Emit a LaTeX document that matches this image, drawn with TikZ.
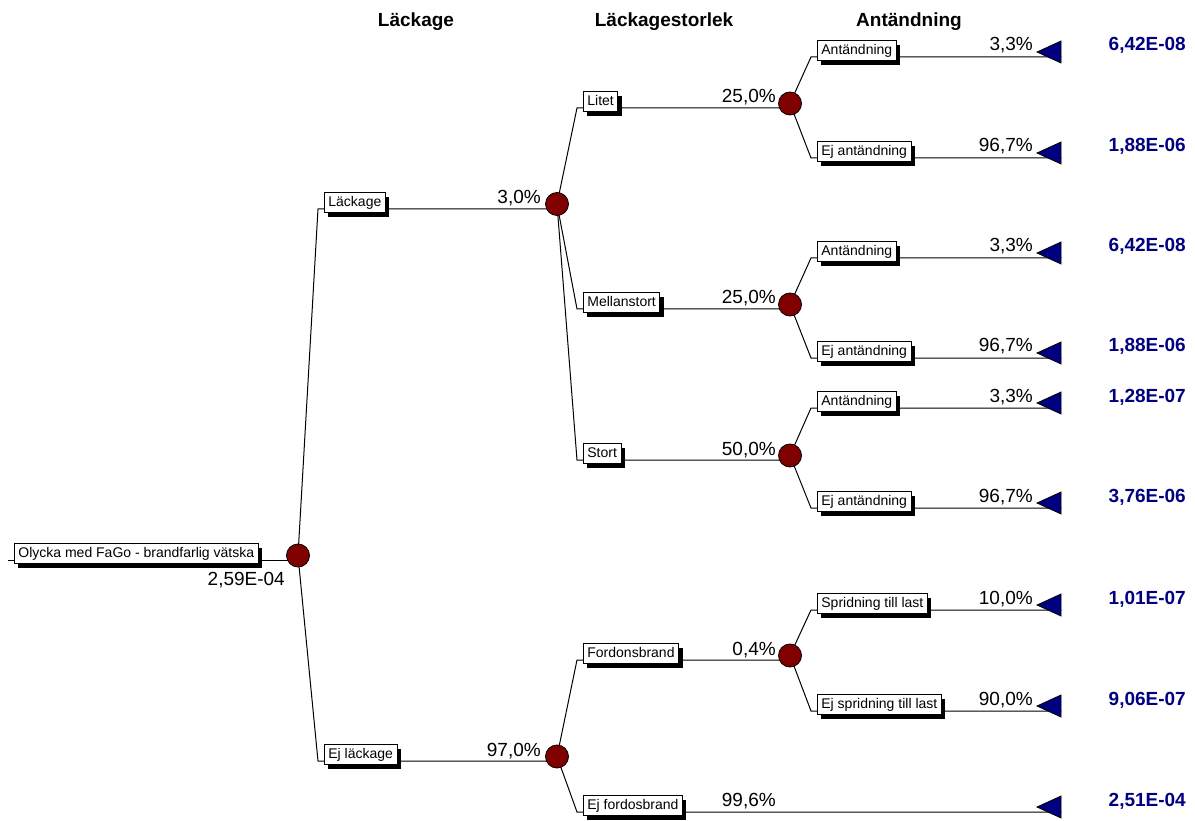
\documentclass[tikz,border=0pt]{standalone}
\usepackage{fontspec}
\setmainfont{Liberation Sans}
\usetikzlibrary{positioning,shapes.geometric,shadows}
\definecolor{nodered}{RGB}{128,0,0}
\definecolor{termblue}{RGB}{0,0,128}
\pgfdeclarelayer{bg}
\pgfsetlayers{bg,main}
\tikzset{
  chance/.style={circle, draw, line width=0.8pt, fill=nodered, minimum size=23pt, inner sep=0pt},
  term/.style={isosceles triangle, isosceles triangle stretches, shape border rotate=180,
    draw, line width=0.8pt, fill=termblue, minimum width=22pt, minimum height=24pt, inner sep=0pt},
  lbl/.style={draw, line width=0.8pt, fill=white, font=\fontsize{14}{16}\selectfont,
    inner xsep=4pt, inner ysep=0pt, text height=10.5pt, text depth=3.5pt, minimum height=20pt,
    drop shadow={shadow xshift=4pt, shadow yshift=-4pt, fill=black, opacity=1}},
  prob/.style={font=\fontsize{19}{21}\selectfont, anchor=base east, inner sep=0pt},
  val/.style={font=\fontsize{19}{21}\selectfont\bfseries, text=termblue, anchor=base east, inner sep=0pt},
  head/.style={font=\fontsize{19}{21}\selectfont\bfseries, anchor=base, inner sep=0pt},
  branch/.style={line width=1pt}
}
\begin{document}
\begin{tikzpicture}[x=1pt, y=-1pt]
  \useasboundingbox (0,0) rectangle (1195,821);
  % column titles
  \node[head] at (416,27) {Läckage};
  \node[head] at (664,27) {Läckagestorlek};
  \node[head] at (909,27) {Antändning};
  % root
  \coordinate (s0) at (8,560);
  \node[chance] (c0) at (298,555.5) {};
  \node[lbl, above right=-4pt and 6pt of s0] {Olycka med FaGo - brandfarlig vätska};
  \node[prob] at (285,585) {2,59E-04};
  % leakage
  \coordinate (k1) at (318,209);
  \node[chance] (c1) at (557,204) {};
  \node[lbl, above right=-4pt and 6pt of k1] {Läckage};
  \node[prob] at (541,204) {3,0\%};
  \coordinate (k2) at (318,761);
  \node[chance] (c2) at (557,756.5) {};
  \node[lbl, above right=-4pt and 6pt of k2] {Ej läckage};
  \node[prob] at (541,756) {97,0\%};
  % size of leak / vehicle fire
  \foreach \k/\L/\src/\txt/\pr in {3/108/c1/Litet/{25,0\%}, 4/309/c1/Mellanstort/{25,0\%},
      5/460/c1/Stort/{50,0\%}, 6/660/c2/Fordonsbrand/{0,4\%}}{
    \coordinate (k\k) at (577,\L);
    \node[chance] (c\k) at (790,\L-4.5) {};
    \node[lbl, above right=-4pt and 6pt of k\k] {\txt};
    \node[prob] at (776,\L-5) {\pr};
  }
  \coordinate (kE) at (577,812);
  \node[term, anchor=apex] (tE) at (1036,807) {};
  \node[lbl, above right=-4pt and 6pt of kE] {Ej fordosbrand};
  \node[prob] at (776,806) {99,6\%};
  \node[val] at (1186,806) {2,51E-04};
  % ignition
  \foreach \k/\L/\src/\txt/\pr/\v in {a/57/c3/Antändning/{3,3\%}/{6,42E-08},
      b/158/c3/Ej antändning/{96,7\%}/{1,88E-06},
      c/258/c4/Antändning/{3,3\%}/{6,42E-08},
      d/358/c4/Ej antändning/{96,7\%}/{1,88E-06},
      e/408/c5/Antändning/{3,3\%}/{1,28E-07},
      f/508/c5/Ej antändning/{96,7\%}/{3,76E-06},
      g/610/c6/Spridning till last/{10,0\%}/{1,01E-07},
      h/711/c6/Ej spridning till last/{90,0\%}/{9,06E-07}}{
    \coordinate (k\k) at (811,\L);
    \node[term, anchor=apex] (t\k) at (1036,\L-5) {};
    \node[lbl, above right=-4pt and 6pt of k\k] {\txt};
    \node[prob] at (1033,\L-6) {\pr};
    \node[val] at (1186,\L-6) {\v};
    \begin{pgfonlayer}{bg}
      \draw[branch] (\src.center) -- (k\k) -- (k\k -| t\k.east);
    \end{pgfonlayer}
  }
  % connectors
  \begin{pgfonlayer}{bg}
    \draw[branch] (s0) -- (s0 -| c0);
    \draw[branch] (c0.center) -- (k1) -- (k1 -| c1);
    \draw[branch] (c0.center) -- (k2) -- (k2 -| c2);
    \foreach \k in {3,4,5}
      \draw[branch] (c1.center) -- (k\k) -- (k\k -| c\k);
    \draw[branch] (c2.center) -- (k6) -- (k6 -| c6);
    \draw[branch] (c2.center) -- (kE) -- (kE -| tE.east);
  \end{pgfonlayer}
\end{tikzpicture}
\end{document}
